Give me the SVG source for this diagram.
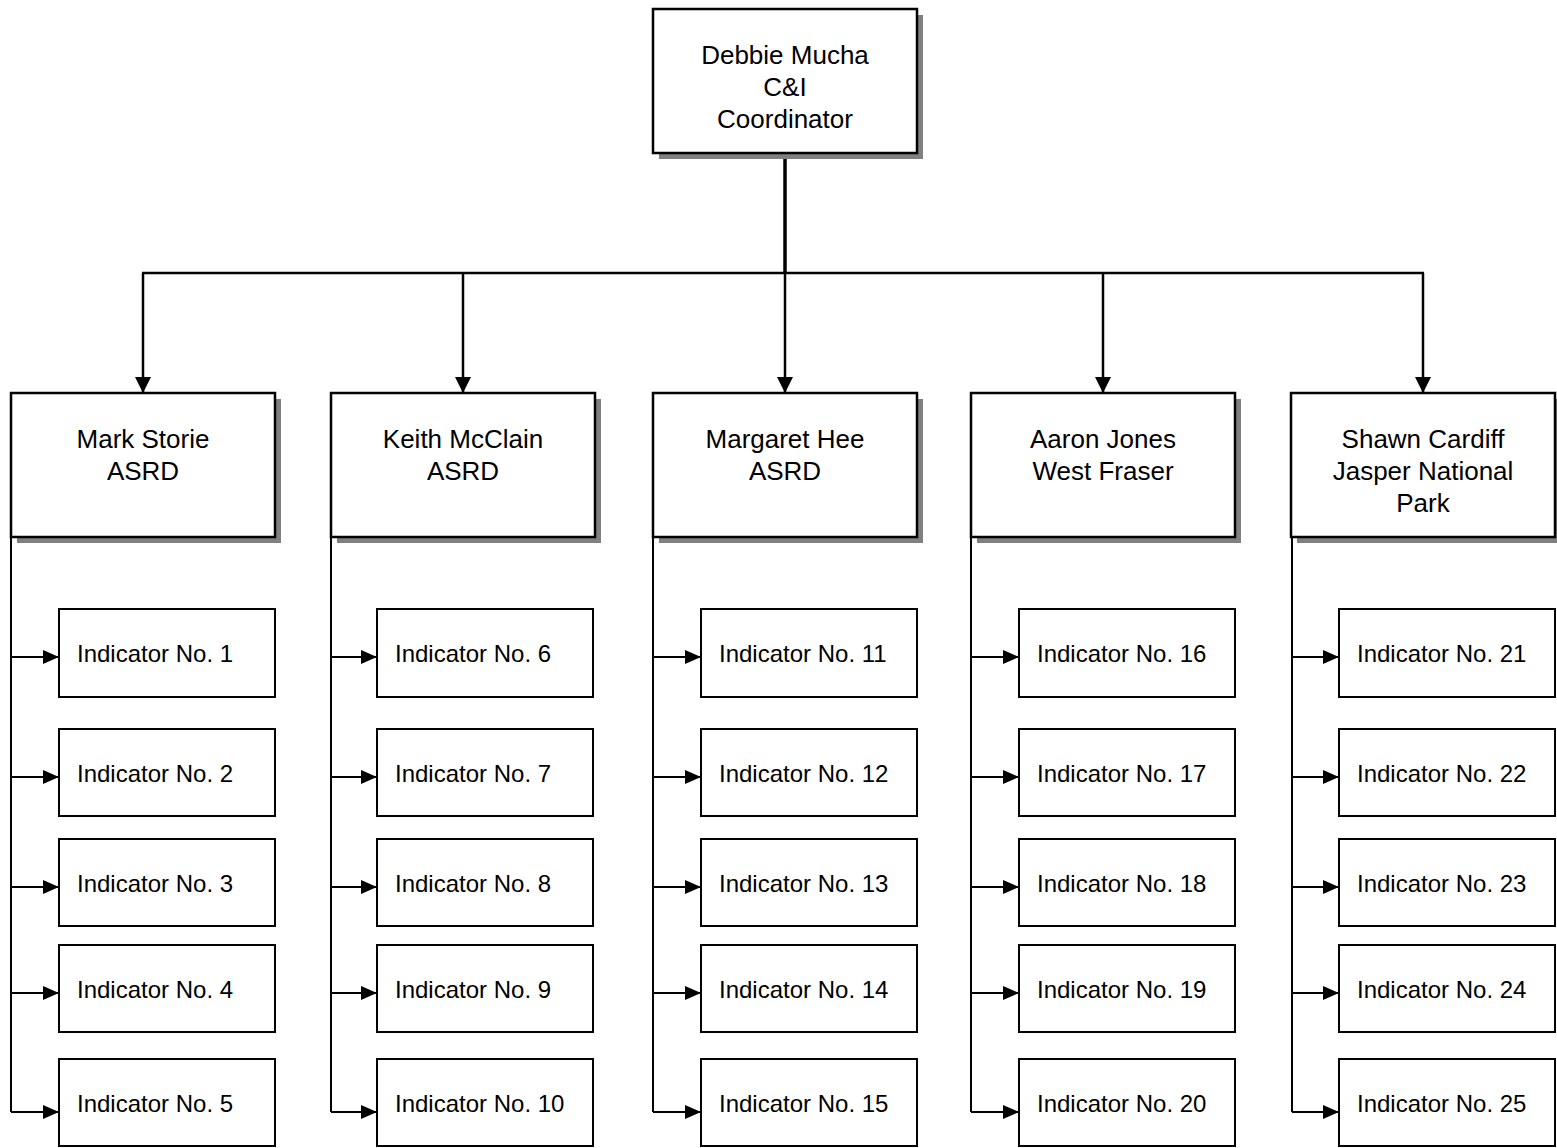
<svg xmlns="http://www.w3.org/2000/svg" width="1557" height="1148" viewBox="0 0 1557 1148">
<style>
.box{fill:#fff;stroke:#000;stroke-width:2.5}
.ibox{fill:#fff;stroke:#000;stroke-width:2}
.shadow{fill:#808080}
.t{font-family:"Liberation Sans",Arial,sans-serif;font-size:26px;fill:#000;text-anchor:middle}
.it{font-family:"Liberation Sans",Arial,sans-serif;font-size:24px;fill:#000}
.c{fill:none;stroke:#000;stroke-width:2.5}
.ci{fill:none;stroke:#000;stroke-width:2}
</style>
<defs>
<marker id="ad" markerUnits="userSpaceOnUse" markerWidth="16" markerHeight="16" refX="8" refY="16" orient="0" viewBox="0 0 16 16"><path d="M0,0 L16,0 L8,16 Z" fill="#000"/></marker>
<marker id="ar" markerUnits="userSpaceOnUse" markerWidth="16" markerHeight="14" refX="16" refY="7" orient="0" viewBox="0 0 16 14"><path d="M0,0 L16,7 L0,14 Z" fill="#000"/></marker>
</defs>
<rect width="1557" height="1148" fill="#fff"/>
<g id="connectors">
<line x1="785" y1="153" x2="785" y2="273" stroke="#000" stroke-width="3.5"/>
<line class="c" x1="142" y1="273" x2="1424" y2="273"/>
<path class="c" d="M143,273 V393" marker-end="url(#ad)"/>
<path class="c" d="M463,273 V393" marker-end="url(#ad)"/>
<path class="c" d="M785,273 V393" marker-end="url(#ad)"/>
<path class="c" d="M1103,273 V393" marker-end="url(#ad)"/>
<path class="c" d="M1423,273 V393" marker-end="url(#ad)"/>
<g id="spines">
<line class="ci" x1="11" y1="537" x2="11" y2="1112"/>
<line class="ci" x1="331" y1="537" x2="331" y2="1112"/>
<line class="ci" x1="653" y1="537" x2="653" y2="1112"/>
<line class="ci" x1="971" y1="537" x2="971" y2="1112"/>
<line class="ci" x1="1292" y1="537" x2="1292" y2="1112"/>
</g>
<g id="branches">
<path class="ci" d="M11,657 H59" marker-end="url(#ar)"/>
<path class="ci" d="M11,777 H59" marker-end="url(#ar)"/>
<path class="ci" d="M11,887 H59" marker-end="url(#ar)"/>
<path class="ci" d="M11,993 H59" marker-end="url(#ar)"/>
<path class="ci" d="M11,1112 H59" marker-end="url(#ar)"/>
<path class="ci" d="M331,657 H377" marker-end="url(#ar)"/>
<path class="ci" d="M331,777 H377" marker-end="url(#ar)"/>
<path class="ci" d="M331,887 H377" marker-end="url(#ar)"/>
<path class="ci" d="M331,993 H377" marker-end="url(#ar)"/>
<path class="ci" d="M331,1112 H377" marker-end="url(#ar)"/>
<path class="ci" d="M653,657 H701" marker-end="url(#ar)"/>
<path class="ci" d="M653,777 H701" marker-end="url(#ar)"/>
<path class="ci" d="M653,887 H701" marker-end="url(#ar)"/>
<path class="ci" d="M653,993 H701" marker-end="url(#ar)"/>
<path class="ci" d="M653,1112 H701" marker-end="url(#ar)"/>
<path class="ci" d="M971,657 H1019" marker-end="url(#ar)"/>
<path class="ci" d="M971,777 H1019" marker-end="url(#ar)"/>
<path class="ci" d="M971,887 H1019" marker-end="url(#ar)"/>
<path class="ci" d="M971,993 H1019" marker-end="url(#ar)"/>
<path class="ci" d="M971,1112 H1019" marker-end="url(#ar)"/>
<path class="ci" d="M1292,657 H1339" marker-end="url(#ar)"/>
<path class="ci" d="M1292,777 H1339" marker-end="url(#ar)"/>
<path class="ci" d="M1292,887 H1339" marker-end="url(#ar)"/>
<path class="ci" d="M1292,993 H1339" marker-end="url(#ar)"/>
<path class="ci" d="M1292,1112 H1339" marker-end="url(#ar)"/>
</g>
</g>
<g id="coordinator">
<rect class="shadow" x="659" y="15" width="264" height="144"/>
<rect class="box" x="653" y="9" width="264" height="144"/>
<text class="t" x="785" y="64">Debbie Mucha</text>
<text class="t" x="785" y="96">C&amp;I</text>
<text class="t" x="785" y="128">Coordinator</text>
</g>
<g id="mark-storie">
<rect class="shadow" x="17" y="399" width="264" height="144"/>
<rect class="box" x="11" y="393" width="264" height="144"/>
<text class="t" x="143" y="448">Mark Storie</text>
<text class="t" x="143" y="480">ASRD</text>
</g>
<g id="keith-mcclain">
<rect class="shadow" x="337" y="399" width="264" height="144"/>
<rect class="box" x="331" y="393" width="264" height="144"/>
<text class="t" x="463" y="448">Keith McClain</text>
<text class="t" x="463" y="480">ASRD</text>
</g>
<g id="margaret-hee">
<rect class="shadow" x="659" y="399" width="264" height="144"/>
<rect class="box" x="653" y="393" width="264" height="144"/>
<text class="t" x="785" y="448">Margaret Hee</text>
<text class="t" x="785" y="480">ASRD</text>
</g>
<g id="aaron-jones">
<rect class="shadow" x="977" y="399" width="264" height="144"/>
<rect class="box" x="971" y="393" width="264" height="144"/>
<text class="t" x="1103" y="448">Aaron Jones</text>
<text class="t" x="1103" y="480">West Fraser</text>
</g>
<g id="shawn-cardiff">
<rect class="shadow" x="1297" y="399" width="264" height="144"/>
<rect class="box" x="1291" y="393" width="264" height="144"/>
<text class="t" x="1423" y="448">Shawn Cardiff</text>
<text class="t" x="1423" y="480">Jasper National</text>
<text class="t" x="1423" y="512">Park</text>
</g>
<g id="indicators">
<g id="ind1"><rect class="ibox" x="59" y="609" width="216" height="88"/><text class="it" x="77" y="662">Indicator No. 1</text></g>
<g id="ind2"><rect class="ibox" x="59" y="729" width="216" height="87"/><text class="it" x="77" y="782">Indicator No. 2</text></g>
<g id="ind3"><rect class="ibox" x="59" y="839" width="216" height="87"/><text class="it" x="77" y="892">Indicator No. 3</text></g>
<g id="ind4"><rect class="ibox" x="59" y="945" width="216" height="87"/><text class="it" x="77" y="998">Indicator No. 4</text></g>
<g id="ind5"><rect class="ibox" x="59" y="1059" width="216" height="87"/><text class="it" x="77" y="1112">Indicator No. 5</text></g>
<g id="ind6"><rect class="ibox" x="377" y="609" width="216" height="88"/><text class="it" x="395" y="662">Indicator No. 6</text></g>
<g id="ind7"><rect class="ibox" x="377" y="729" width="216" height="87"/><text class="it" x="395" y="782">Indicator No. 7</text></g>
<g id="ind8"><rect class="ibox" x="377" y="839" width="216" height="87"/><text class="it" x="395" y="892">Indicator No. 8</text></g>
<g id="ind9"><rect class="ibox" x="377" y="945" width="216" height="87"/><text class="it" x="395" y="998">Indicator No. 9</text></g>
<g id="ind10"><rect class="ibox" x="377" y="1059" width="216" height="87"/><text class="it" x="395" y="1112">Indicator No. 10</text></g>
<g id="ind11"><rect class="ibox" x="701" y="609" width="216" height="88"/><text class="it" x="719" y="662">Indicator No. 11</text></g>
<g id="ind12"><rect class="ibox" x="701" y="729" width="216" height="87"/><text class="it" x="719" y="782">Indicator No. 12</text></g>
<g id="ind13"><rect class="ibox" x="701" y="839" width="216" height="87"/><text class="it" x="719" y="892">Indicator No. 13</text></g>
<g id="ind14"><rect class="ibox" x="701" y="945" width="216" height="87"/><text class="it" x="719" y="998">Indicator No. 14</text></g>
<g id="ind15"><rect class="ibox" x="701" y="1059" width="216" height="87"/><text class="it" x="719" y="1112">Indicator No. 15</text></g>
<g id="ind16"><rect class="ibox" x="1019" y="609" width="216" height="88"/><text class="it" x="1037" y="662">Indicator No. 16</text></g>
<g id="ind17"><rect class="ibox" x="1019" y="729" width="216" height="87"/><text class="it" x="1037" y="782">Indicator No. 17</text></g>
<g id="ind18"><rect class="ibox" x="1019" y="839" width="216" height="87"/><text class="it" x="1037" y="892">Indicator No. 18</text></g>
<g id="ind19"><rect class="ibox" x="1019" y="945" width="216" height="87"/><text class="it" x="1037" y="998">Indicator No. 19</text></g>
<g id="ind20"><rect class="ibox" x="1019" y="1059" width="216" height="87"/><text class="it" x="1037" y="1112">Indicator No. 20</text></g>
<g id="ind21"><rect class="ibox" x="1339" y="609" width="216" height="88"/><text class="it" x="1357" y="662">Indicator No. 21</text></g>
<g id="ind22"><rect class="ibox" x="1339" y="729" width="216" height="87"/><text class="it" x="1357" y="782">Indicator No. 22</text></g>
<g id="ind23"><rect class="ibox" x="1339" y="839" width="216" height="87"/><text class="it" x="1357" y="892">Indicator No. 23</text></g>
<g id="ind24"><rect class="ibox" x="1339" y="945" width="216" height="87"/><text class="it" x="1357" y="998">Indicator No. 24</text></g>
<g id="ind25"><rect class="ibox" x="1339" y="1059" width="216" height="87"/><text class="it" x="1357" y="1112">Indicator No. 25</text></g>
</g>
</svg>
